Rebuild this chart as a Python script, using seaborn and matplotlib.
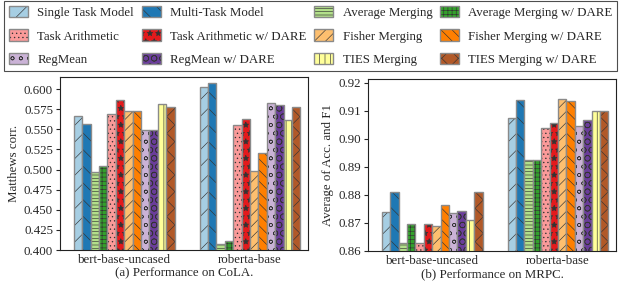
import matplotlib
matplotlib.use("Agg")
import matplotlib.pyplot as plt
import seaborn as sns
import pandas as pd
from matplotlib.patches import Patch
from matplotlib.colors import to_rgba

models = ["bert-base-uncased", "roberta-base"]
methods = ["Single Task Model", "Multi-Task Model", "Average Merging", "Average Merging w/ DARE",
           "Task Arithmetic", "Task Arithmetic w/ DARE", "Fisher Merging", "Fisher Merging w/ DARE",
           "RegMean", "RegMean w/ DARE", "TIES Merging", "TIES Merging w/ DARE"]
hatches = ["//", "\\\\", "-----", "++++", "....", "**", "///", "\\\\\\", "oo", "OO", "|||", "xx"]

cola_bert = [0.566, 0.557, 0.497, 0.505, 0.569, 0.586, 0.573, 0.573, 0.549, 0.549, 0.582, 0.578]
cola_roberta = [0.602, 0.607, 0.408, 0.411, 0.555, 0.563, 0.498, 0.520, 0.583, 0.580, 0.561, 0.578]
mrpc_bert = [0.874, 0.881, 0.863, 0.8695, 0.863, 0.8695, 0.869, 0.8765, 0.8735, 0.8743, 0.871, 0.881]
mrpc_roberta = [0.9075, 0.9137, 0.8923, 0.8923, 0.9037, 0.9057, 0.914, 0.9136, 0.9045, 0.9067, 0.9098, 0.9098]

sns.set_theme(style="ticks")
plt.rcParams["font.family"] = ["Liberation Serif", "DejaVu Serif"]
plt.rcParams["font.size"] = 9.3
plt.rcParams["hatch.color"] = "#333333"
plt.rcParams["hatch.linewidth"] = 0.45

palette = sns.color_palette("Paired", 12)
HATCH_RGBA = to_rgba("#333333")
EDGE = "#8a8a8a"


def make_df(bert, roberta):
    rows = []
    for m, v in zip(methods, bert):
        rows.append({"model": models[0], "method": m, "value": v})
    for m, v in zip(methods, roberta):
        rows.append({"model": models[1], "method": m, "value": v})
    return pd.DataFrame(rows)


def style_patch(p, h):
    p.set_hatch(h)
    if hasattr(p, "set_hatchcolor"):
        p.set_hatchcolor(HATCH_RGBA)
    else:
        p._hatch_color = HATCH_RGBA


fig = plt.figure(figsize=(6.19, 2.85), dpi=100)
ax1 = fig.add_axes([0.0969, 0.1228, 0.4006, 0.607])
ax2 = fig.add_axes([0.5945, 0.1193, 0.4006, 0.6035])

panels = [
    (ax1, make_df(cola_bert, cola_roberta), (0.4, 0.615), [0.4 + 0.025 * i for i in range(9)], "{:.3f}",
     "Matthews corr.", "(a) Performance on CoLA."),
    (ax2, make_df(mrpc_bert, mrpc_roberta), (0.86, 0.9213), [0.86 + 0.01 * i for i in range(7)], "{:.2f}",
     "Average of Acc. and F1", "(b) Performance on MRPC."),
]

for ax, df, ylim, yt, fmt, ylab, xlab in panels:
    sns.barplot(data=df, x="model", y="value", hue="method", hue_order=methods, palette=palette,
                edgecolor=EDGE, linewidth=1.0, ax=ax, legend=False, width=0.8, saturation=1)
    for cont, h in zip(ax.containers, hatches):
        for p in cont:
            style_patch(p, h)
    ax.set_ylim(*ylim)
    ax.set_xlim(-0.51, 1.46)
    ax.set_yticks(yt)
    ax.set_yticklabels([fmt.format(v) for v in yt])
    ax.set_ylabel(ylab, fontsize=9.3, labelpad=3)
    ax.set_xlabel(xlab, fontsize=9.3, labelpad=1)
    ax.tick_params(axis="x", length=0, pad=3, labelsize=9.3)
    ax.tick_params(axis="y", length=3, width=0.8, pad=2, labelsize=9.3)
    for s in ax.spines.values():
        s.set_visible(True)
        s.set_linewidth(0.8)
        s.set_color("#222222")

handles = []
for i in range(12):
    hp = Patch(facecolor=palette[i], edgecolor=EDGE, label=methods[i])
    style_patch(hp, hatches[i])
    handles.append(hp)
# reorder so that rows read across (matplotlib fills columns first)
order = [0, 4, 8, 1, 5, 9, 2, 6, 10, 3, 7, 11]
leg = fig.legend([handles[i] for i in order], [methods[i] for i in order], ncol=4,
                 loc="upper center", bbox_to_anchor=(0.502, 1.0), frameon=True, fancybox=False,
                 edgecolor="#222222", fontsize=9.3, handlelength=1.5, handleheight=1.0,
                 handletextpad=0.7, columnspacing=0.6, labelspacing=0.8, borderpad=0.35,
                 borderaxespad=0.1)
leg.get_frame().set_linewidth(0.8)

fig.savefig("out.png", dpi=100)
